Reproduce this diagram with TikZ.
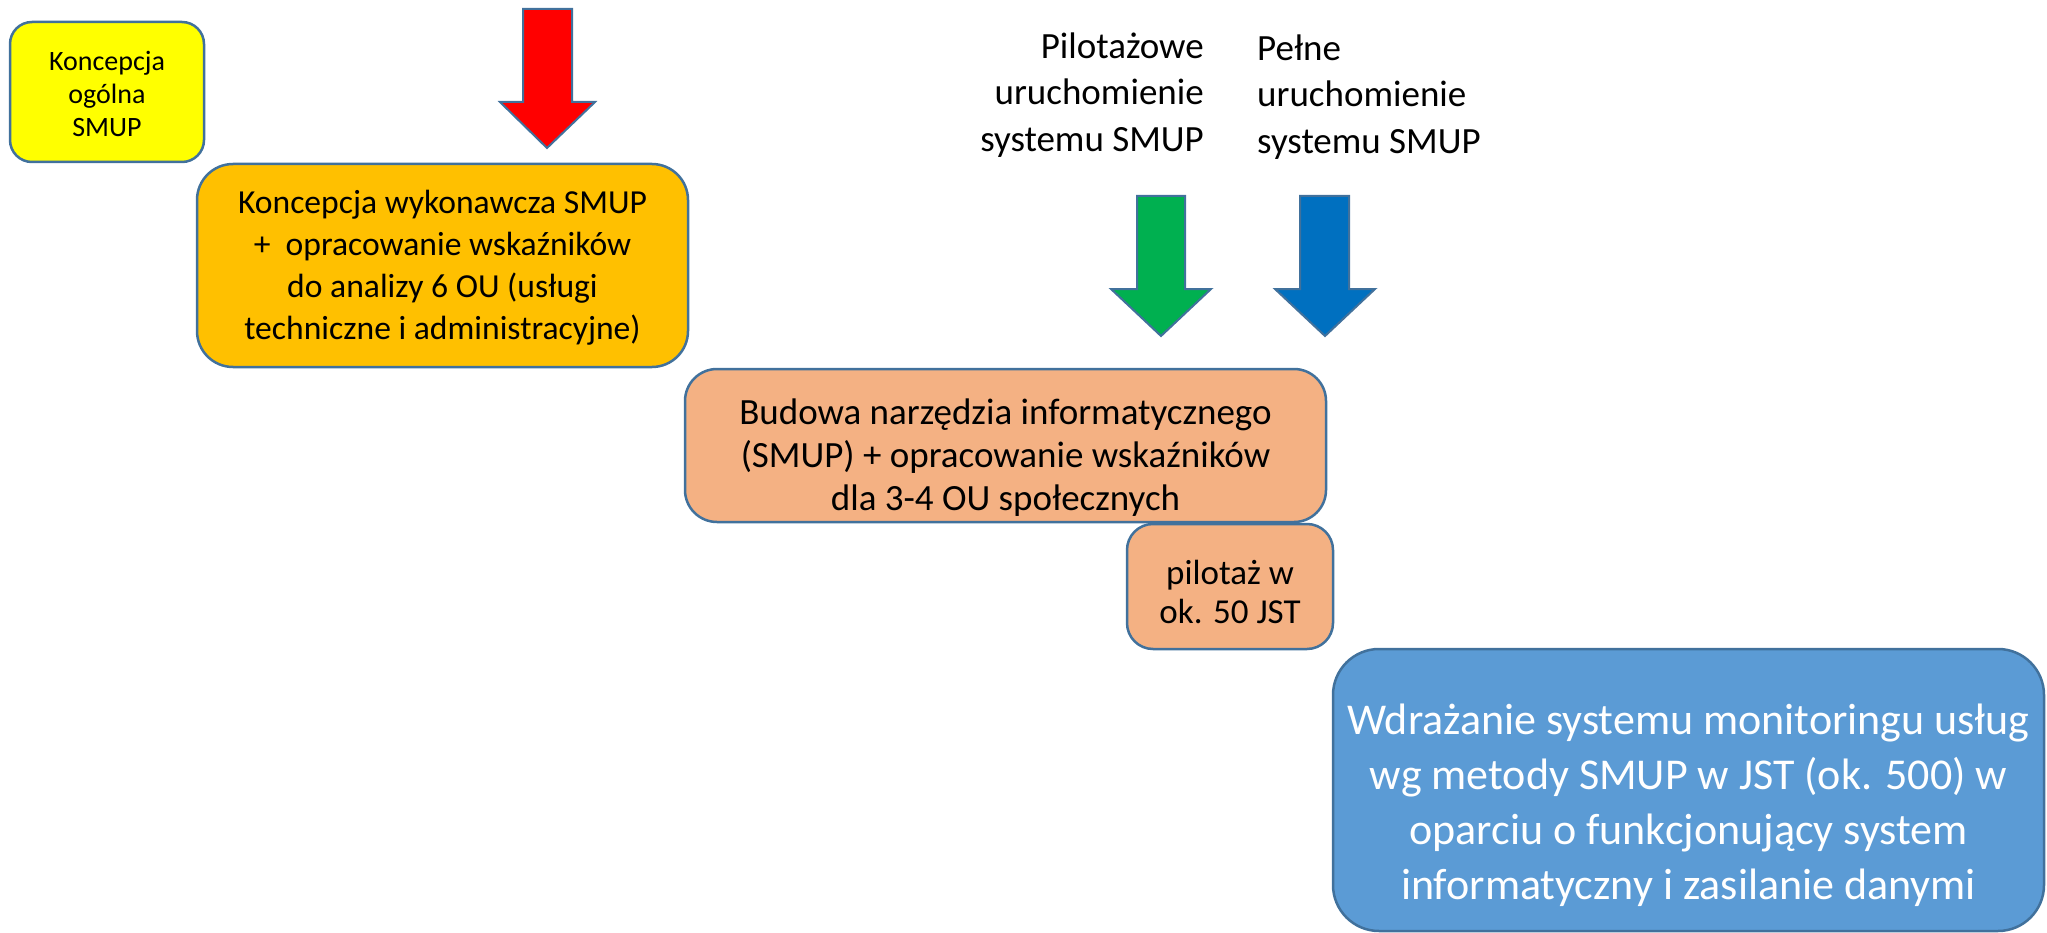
\documentclass[tikz,border=0pt]{standalone}
\usepackage{fontspec}
\setmainfont{Carlito}
\definecolor{edge}{HTML}{41719C}
\definecolor{cyellow}{HTML}{FFFF00}
\definecolor{corange}{HTML}{FFC000}
\definecolor{csalmon}{HTML}{F4B183}
\definecolor{cblue}{HTML}{5B9BD5}
\definecolor{ared}{HTML}{FF0000}
\definecolor{agreen}{HTML}{00B050}
\definecolor{ablue}{HTML}{0070C0}
\tikzset{
  box/.style={draw=edge, line width=2.5pt, inner sep=0pt},
  txt/.style={align=center, inner sep=0pt, text=black},
  bigarrow/.style={draw=edge, line width=2pt, line join=miter},
  lbl/.style={inner sep=0pt, font=\fontsize{37}{46.5}\selectfont}
}
\begin{document}
\begin{tikzpicture}[x=1pt,y=-1pt]
\useasboundingbox (0,0) rectangle (2047,933);
% boxes
\node[box, fill=cyellow, rounded corners=22pt, minimum width=194pt, minimum height=140pt] (yel) at (107,92) {};
\node[txt, font=\fontsize{28}{33}\selectfont] (yelt) at ([yshift=-2pt]yel.center) {Koncepcja\\ogólna\\SMUP};
\node[box, fill=corange, rounded corners=36pt, minimum width=491pt, minimum height=203pt] (ora) at (442.5,265.5) {};
\node[txt, font=\fontsize{33.6}{42}\selectfont] (orat) at ([yshift=-2pt]ora.center)
  {Koncepcja wykonawcza SMUP\\+\ \ opracowanie wskaźników\\do analizy 6 OU (usługi\\techniczne i administracyjne)};
\node[box, fill=csalmon, rounded corners=32pt, minimum width=641pt, minimum height=153pt] (bud) at (1005.5,445.5) {};
\node[txt, font=\fontsize{37}{43}\selectfont] (budt) at ([yshift=-12pt]bud.center)
  {Budowa narzędzia informatycznego\\(SMUP) + opracowanie wskaźników\\dla 3-4 OU społecznych};
\node[box, fill=csalmon, rounded corners=26pt, minimum width=206pt, minimum height=125pt] (pil) at (1230,586.5) {};
\node[txt, font=\fontsize{35}{39}\selectfont] (pilt) at ([yshift=-5pt]pil.center) {pilotaż w\\ok. 50 JST};
\node[box, fill=cblue, rounded corners=46pt, minimum width=711pt, minimum height=282pt] (wdr) at (1688.5,790) {};
\node[txt, text=white, font=\fontsize{44}{55}\selectfont] (wdrt) at ([yshift=-15pt]wdr.center)
  {Wdrażanie systemu monitoringu usług\\wg metody SMUP w JST (ok. 500) w\\oparciu o funkcjonujący system\\informatyczny i zasilanie danymi};
% labels
\node[lbl, align=right, anchor=east] (lpil) at (1204,95) {Pilotażowe\\uruchomienie\\systemu SMUP};
\node[lbl, align=left, anchor=west] (lpel) at (1257,97) {Pełne\\uruchomienie\\systemu SMUP};
% arrows
\draw[bigarrow, fill=ared] (523,9) -- (572,9) -- (572,102) -- (595,102) -- (547,148) -- (500,102) -- (523,102) -- cycle;
\draw[bigarrow, fill=agreen] (1137,196) -- (1185,196) -- (1185,289) -- (1211,289) -- (1161,336) -- (1111,289) -- (1137,289) -- cycle;
\draw[bigarrow, fill=ablue] (1300,196) -- (1349,196) -- (1349,289) -- (1375,289) -- (1325,336) -- (1275,289) -- (1300,289) -- cycle;
\end{tikzpicture}
\end{document}
